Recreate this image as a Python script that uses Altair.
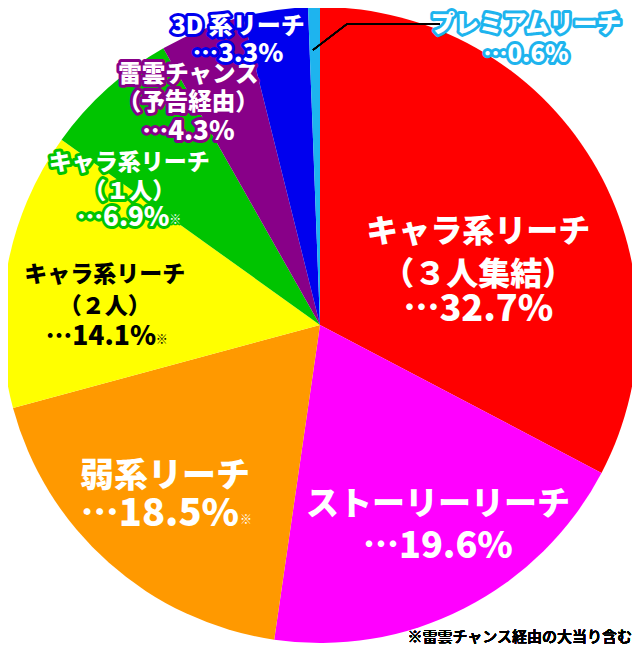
import altair as alt
import pandas as pd

# ---- data ----
names = ["キャラ系リーチ（3人集結）", "ストーリーリーチ", "弱系リーチ", "キャラ系リーチ（2人）",
         "キャラ系リーチ（1人）", "雷雲チャンス（予告経由）", "3D系リーチ", "プレミアムリーチ"]
values = [32.7, 19.6, 18.5, 14.1, 6.9, 4.3, 3.3, 0.6]
colors = ["#FF0000", "#FF00FF", "#FF9900", "#FFFF00", "#00C400", "#880088", "#0000EE", "#1EB4EE"]
label_heads = [
    ["キャラ系リーチ", "（３人集結）"],
    ["ストーリーリーチ"],
    ["弱系リーチ"],
    ["キャラ系リーチ", "（２人）"],
    ["キャラ系リーチ", "（１人）"],
    ["雷雲チャンス", "（予告経由）"],
    ["3D 系リーチ"],
    ["プレミアムリーチ"],
]
has_note = [False, False, True, True, True, False, False, False]
footnote = "※雷雲チャンス経由の大当り含む"

# ---- layout / style ----
CX, CY, R = 312, 317, 318
label_nudge_deg = [12.6, -3.4, 0.6, -5.2, -13.0, -8.9, -7.5, 36.0]
label_radius = [167, 233, 231, 216, 233, 258, 305, 360]
head_size = [32, 33, 34, 23, 23, 23.5, 24, 24]
pct_size = [36, 36, 38, 26.5, 26, 26, 25.5, 24]
pct_dx = [0, 0, -5, -4, -6, 0, 0, 0]
line_dy = [[-40, 3, 38], [-21, 21], [-19, 19], [-31, 1, 31], [-28, 1, 27],
           [-28, 0, 29], [-4, 23], [-5, 25]]
label_fill = ["white", "white", "white", "black", "white", "white", "white", "white"]
label_halo = [None, None, None, None, colors[4], colors[5], colors[6], colors[7]]
note_offset = {2: (81, 24), 3: (57, 34), 4: (46, 29)}
FONT = "Noto Sans CJK JP"

df = pd.DataFrame({"name": names, "value": values, "order": list(range(len(names)))})

base = alt.Chart()

pie = base.mark_arc(radius=R).encode(
    x=alt.value(CX),
    y=alt.value(CY),
    theta=alt.Theta("value:Q", stack=True),
    order=alt.Order("order:Q", sort="ascending"),
    color=alt.Color("name:N", scale=alt.Scale(domain=names, range=colors), legend=None),
)


def positioned(i):
    return (
        base.transform_joinaggregate(total="sum(value)")
        .transform_window(cum="sum(value)", sort=[alt.SortField("order")], frame=[None, 0])
        .transform_filter(alt.datum.order == i)
        .transform_calculate(
            ang=f"((datum.cum - datum.value/2)/datum.total)*2*PI + ({label_nudge_deg[i]})*PI/180"
        )
        .transform_calculate(
            px=f"{CX} + {label_radius[i]}*sin(datum.ang)",
            py=f"{CY} - {label_radius[i]}*cos(datum.ang)",
        )
    )


enc = dict(x=alt.X("px:Q", scale=None), y=alt.Y("py:Q", scale=None))


def text_pair(i, txt, size, dx, dy, weight, halo_w):
    out = []
    common = dict(text=txt, font=FONT, fontWeight=weight, fontSize=size,
                  align="center", baseline="middle", dx=dx, dy=dy)
    if label_halo[i]:
        out.append(positioned(i).mark_text(fill=label_halo[i], stroke=label_halo[i],
                                           strokeWidth=halo_w, strokeJoin="round",
                                           **common).encode(**enc))
    out.append(positioned(i).mark_text(fill=label_fill[i], **common).encode(**enc))
    return out


layers = [pie]
for i in range(len(names)):
    lines = label_heads[i] + [f"…{values[i]}%"]
    sizes = [head_size[i]] * len(label_heads[i]) + [pct_size[i]]
    dxs = [0] * len(label_heads[i]) + [pct_dx[i]]
    for k, (txt, sz, ddx) in enumerate(zip(lines, sizes, dxs)):
        layers += text_pair(i, txt, sz, ddx, line_dy[i][k], 900, 6)
    if has_note[i]:
        ndx, ndy = note_offset[i]
        layers += text_pair(i, "※", 12, ndx, ndy, 400, 3)

# leader line for the smallest slice
leader1 = base.mark_rule(color="black", strokeWidth=1.5).encode(
    x=alt.value(305), y=alt.value(42), x2=alt.value(339), y2=alt.value(16))
leader2 = base.mark_rule(color="black", strokeWidth=1.5).encode(
    x=alt.value(339), y=alt.value(16), x2=alt.value(432), y2=alt.value(16))

note = base.mark_text(text=footnote, font=FONT, fontSize=15, fontWeight=500, align="right",
                      baseline="middle", color="black").encode(x=alt.value(624), y=alt.value(629))

chart = alt.layer(*layers, leader1, leader2, note, data=df).properties(
    width=624, height=638, padding=0, autosize=alt.AutoSizeParams(type="none")
).configure_view(stroke=None)

chart.save("out.html", embed_options={"renderer": "svg", "actions": False})
